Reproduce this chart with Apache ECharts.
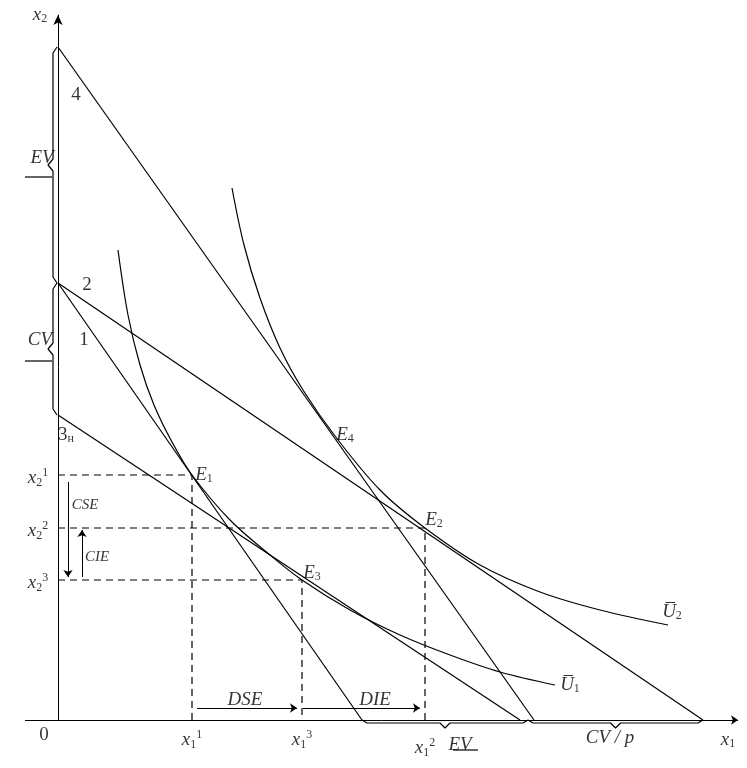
<!DOCTYPE html>
<html><head><meta charset="utf-8">
<script src="https://cdn.jsdelivr.net/npm/echarts@6/dist/echarts.min.js"></script>
<style>html,body{margin:0;background:#fff}#c{width:747px;height:768px}</style>
</head><body><div id="c"></div>
<script>
// budget lines [start, end]
const line1 = [[0,437],[304,0]];
const line2 = [[0,437],[645,0]];
const line3 = [[0,305],[462,0]];
const line4 = [[0,673],[476,0]];
// indifference curves
const U1 = [[60,470],[70,405],[82,355],[96,315],[114,278],[134,245],[172,200],[212,165],[244,140],[292,110],[342,85],[392,65],[442,48],[497,35]];
const U2 = [[174,532],[186,475],[202,422],[222,372],[245,330],[277,284],[322,230],[367,192],[422,155],[482,128],[542,110],[610,95]];
// equilibrium points (x1, x2)
const eqPts = {E1:[134,245], E2:[367,192], E3:[244,140]};
// braces [from, to]
const vBraces = [[673,437],[437,305]];
const hBraces = [[304,470],[470,645]];
// arrows
const arrows = [[[10,238],[10,143]],[[24,143],[24,190]],[[139,12],[239,12]],[[245,12],[362,12]],[[-33,0],[680,0]]];
// text labels [x, y, text]
const labels = [
 [-18,705,'{i|x}{s|2}'],[670,-20,'{i|x}{s|1}'],[-14,-15,'{r|0}'],
 [18,625,'{r|4}'],[29,435,'{r|2}'],[26,380,'{r|1}'],[8,285,'{r|3}{s|н}'],
 [146,245,'{i|E}{s|1}'],[376,200,'{i|E}{s|2}'],[254,147,'{i|E}{s|3}'],[287,285,'{i|E}{s|4}'],
 [614,108,'{i|U̅}{s|2}'],[512,35,'{i|U̅}{s|1}'],
 [-16,562,'{i|EV}'],[-18,380,'{i|CV}'],
 [-20,242,'{i|x}{s|2}{p|1}'],[-20,189,'{i|x}{s|2}{p|2}'],[-20,137,'{i|x}{s|2}{p|3}'],
 [27,215,'{si|CSE}'],[39,163,'{si|CIE}'],[187,20,'{i|DSE}'],[317,20,'{i|DIE}'],
 [134,-20,'{i|x}{s|1}{p|1}'],[244,-20,'{i|x}{s|1}{p|3}'],[367,-28,'{i|x}{s|1}{p|2}'],
 [402,-25,'{i|EV}'],[552,-18,'{i|CV / p}']
];
const F='Liberation Serif';
function brV(y1,y2,x0){const m=(y1+y2)/2,d=y1>y2?-1:1;return [[x0+4,y1],[x0,y1+6*d],[x0,m-6*d],[x0-5,m],[x0,m+6*d],[x0,y2-6*d],[x0+4,y2]];}
function brH(a,b,y0){const m=(a+b)/2;return [[a,y0+3],[a+5,y0],[m-5,y0],[m,y0-5],[m+5,y0],[b-5,y0],[b,y0+3]];}
const base={type:'line',symbol:'none',clip:false,silent:true,lineStyle:{color:'#000',width:1.2}};
const series=[];
[line1,line2,line3,line4].forEach(d=>series.push({...base,data:d}));
[U1,U2].forEach(d=>series.push({...base,smooth:0.35,data:d}));
Object.values(eqPts).forEach(p=>series.push({...base,lineStyle:{color:'#000',width:1.2,type:[7,5]},data:[[0,p[1]],p,[p[0],0]]}));
vBraces.forEach(b=>{series.push({...base,data:brV(b[0],b[1],-5)});const m=(b[0]+b[1])/2-12;series.push({...base,data:[[-33,m],[-6,m]]});});
hBraces.forEach(b=>series.push({...base,data:brH(b[0],b[1],-3)}));
series.push({...base,data:[[395,-30],[420,-30]]});
series.push({type:'line',data:[],markLine:{silent:true,symbol:['none','arrow'],symbolSize:7,label:{show:false},lineStyle:{color:'#000',width:1,type:'solid'},
  data:arrows.map(a=>[{coord:a[0]},{coord:a[1]}])}});
series.push({type:'scatter',symbolSize:0,clip:false,silent:true,data:labels.map(l=>[l[0],l[1],l[2]]),
 label:{show:true,position:'inside',formatter:p=>p.data[2],color:'#000',
  rich:{i:{fontFamily:F,fontStyle:'italic',fontSize:19},r:{fontFamily:F,fontSize:19},
   s:{fontFamily:F,fontSize:12,verticalAlign:'bottom',padding:[8,0,0,0]},
   p:{fontFamily:F,fontSize:12,verticalAlign:'top',padding:[0,0,10,0]},
   si:{fontFamily:F,fontStyle:'italic',fontSize:15}}}});
const ch=echarts.init(document.getElementById('c'));
ch.setOption({animation:false,grid:{left:0,right:9,top:15,bottom:48},
 xAxis:{type:'value',min:-58,max:680,axisLine:{show:false},axisTick:{show:false},axisLabel:{show:false},splitLine:{show:false}},
 yAxis:{type:'value',min:0,max:705,axisLine:{show:true,onZero:true,symbol:['none','arrow'],symbolSize:[7,10],lineStyle:{color:'#000'}},axisTick:{show:false},axisLabel:{show:false},splitLine:{show:false}},
 series});
</script></body></html>
